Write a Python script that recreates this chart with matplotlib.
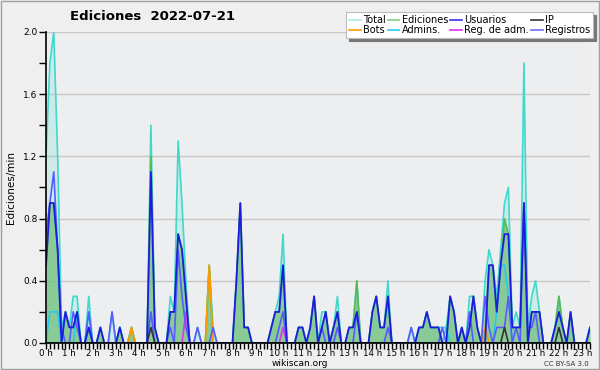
import matplotlib
matplotlib.use("Agg")
import matplotlib.pyplot as plt
import numpy as np
from matplotlib.ticker import MultipleLocator, FixedLocator, FuncFormatter
from matplotlib.patches import Rectangle
from matplotlib.lines import Line2D

# 10-minute buckets from 00:00 to 23:20 (minutes since midnight)
time_min = np.arange(0, 1401, 10)

total = [
    1.2, 1.8, 2.0, 1.2, 0.1, 0.2,   0.1, 0.3, 0.3, 0.0, 0.0, 0.3,
    0.0, 0.0, 0.1, 0.0, 0.0, 0.2,   0.0, 0.1, 0.0, 0.0, 0.1, 0.0,
    0.0, 0.0, 0.0, 1.4, 0.1, 0.0,   0.0, 0.0, 0.3, 0.2, 1.3, 0.9,
    0.4, 0.0, 0.0, 0.1, 0.0, 0.0,   0.5, 0.1, 0.0, 0.0, 0.0, 0.0,
    0.0, 0.4, 0.9, 0.1, 0.1, 0.0,   0.0, 0.0, 0.0, 0.0, 0.1, 0.2,
    0.3, 0.7, 0.0, 0.0, 0.0, 0.1,   0.1, 0.0, 0.1, 0.3, 0.0, 0.2,
    0.2, 0.0, 0.1, 0.3, 0.0, 0.0,   0.1, 0.1, 0.4, 0.0, 0.0, 0.0,
    0.2, 0.3, 0.1, 0.1, 0.4, 0.0,   0.0, 0.0, 0.0, 0.0, 0.1, 0.0,
    0.1, 0.1, 0.2, 0.1, 0.1, 0.1,   0.1, 0.1, 0.3, 0.2, 0.0, 0.1,
    0.0, 0.3, 0.3, 0.1, 0.0, 0.4,   0.6, 0.5, 0.3, 0.6, 0.9, 1.0,
    0.1, 0.2, 0.1, 1.8, 0.1, 0.3,   0.4, 0.2, 0.0, 0.0, 0.0, 0.1,
    0.3, 0.1, 0.0, 0.2, 0.0, 0.0,   0.0, 0.0, 0.1,
]
ediciones = [
    0.5, 0.9, 0.9, 0.6, 0.0, 0.2,   0.1, 0.1, 0.2, 0.0, 0.0, 0.1,
    0.0, 0.0, 0.1, 0.0, 0.0, 0.0,   0.0, 0.1, 0.0, 0.0, 0.1, 0.0,
    0.0, 0.0, 0.0, 1.2, 0.1, 0.0,   0.0, 0.0, 0.2, 0.2, 0.7, 0.6,
    0.3, 0.0, 0.0, 0.0, 0.0, 0.0,   0.5, 0.0, 0.0, 0.0, 0.0, 0.0,
    0.0, 0.4, 0.9, 0.1, 0.1, 0.0,   0.0, 0.0, 0.0, 0.0, 0.1, 0.2,
    0.2, 0.5, 0.0, 0.0, 0.0, 0.1,   0.1, 0.0, 0.1, 0.3, 0.0, 0.1,
    0.2, 0.0, 0.1, 0.2, 0.0, 0.0,   0.1, 0.1, 0.4, 0.0, 0.0, 0.0,
    0.2, 0.3, 0.1, 0.1, 0.3, 0.0,   0.0, 0.0, 0.0, 0.0, 0.0, 0.0,
    0.1, 0.1, 0.2, 0.1, 0.1, 0.1,   0.0, 0.0, 0.3, 0.2, 0.0, 0.1,
    0.0, 0.1, 0.3, 0.1, 0.0, 0.1,   0.5, 0.5, 0.2, 0.5, 0.8, 0.7,
    0.1, 0.1, 0.1, 0.9, 0.0, 0.2,   0.2, 0.2, 0.0, 0.0, 0.0, 0.1,
    0.3, 0.1, 0.0, 0.2, 0.0, 0.0,   0.0, 0.0, 0.1,
]
usuarios = [
    0.5, 0.9, 0.9, 0.6, 0.0, 0.2,   0.1, 0.1, 0.2, 0.0, 0.0, 0.1,
    0.0, 0.0, 0.1, 0.0, 0.0, 0.0,   0.0, 0.1, 0.0, 0.0, 0.0, 0.0,
    0.0, 0.0, 0.0, 1.1, 0.1, 0.0,   0.0, 0.0, 0.2, 0.2, 0.7, 0.6,
    0.3, 0.0, 0.0, 0.0, 0.0, 0.0,   0.0, 0.0, 0.0, 0.0, 0.0, 0.0,
    0.0, 0.4, 0.9, 0.1, 0.1, 0.0,   0.0, 0.0, 0.0, 0.0, 0.1, 0.2,
    0.2, 0.5, 0.0, 0.0, 0.0, 0.1,   0.1, 0.0, 0.1, 0.3, 0.0, 0.1,
    0.2, 0.0, 0.1, 0.2, 0.0, 0.0,   0.1, 0.1, 0.2, 0.0, 0.0, 0.0,
    0.2, 0.3, 0.1, 0.1, 0.3, 0.0,   0.0, 0.0, 0.0, 0.0, 0.0, 0.0,
    0.1, 0.1, 0.2, 0.1, 0.1, 0.1,   0.0, 0.0, 0.3, 0.2, 0.0, 0.1,
    0.0, 0.1, 0.3, 0.1, 0.0, 0.0,   0.5, 0.5, 0.2, 0.5, 0.7, 0.7,
    0.1, 0.1, 0.1, 0.9, 0.0, 0.2,   0.2, 0.2, 0.0, 0.0, 0.0, 0.1,
    0.2, 0.1, 0.0, 0.2, 0.0, 0.0,   0.0, 0.0, 0.1,
]
registros = [
    0.7, 0.9, 1.1, 0.6, 0.1, 0.0,   0.0, 0.2, 0.1, 0.0, 0.0, 0.2,
    0.0, 0.0, 0.0, 0.0, 0.0, 0.2,   0.0, 0.0, 0.0, 0.0, 0.0, 0.0,
    0.0, 0.0, 0.0, 0.2, 0.0, 0.0,   0.0, 0.0, 0.1, 0.0, 0.6, 0.3,
    0.1, 0.0, 0.0, 0.1, 0.0, 0.0,   0.0, 0.1, 0.0, 0.0, 0.0, 0.0,
    0.0, 0.0, 0.0, 0.0, 0.0, 0.0,   0.0, 0.0, 0.0, 0.0, 0.0, 0.0,
    0.1, 0.2, 0.0, 0.0, 0.0, 0.0,   0.0, 0.0, 0.0, 0.0, 0.0, 0.1,
    0.0, 0.0, 0.0, 0.1, 0.0, 0.0,   0.0, 0.0, 0.2, 0.0, 0.0, 0.0,
    0.0, 0.0, 0.0, 0.0, 0.1, 0.0,   0.0, 0.0, 0.0, 0.0, 0.1, 0.0,
    0.0, 0.0, 0.0, 0.0, 0.0, 0.0,   0.1, 0.0, 0.0, 0.0, 0.0, 0.0,
    0.0, 0.2, 0.0, 0.0, 0.0, 0.3,   0.1, 0.0, 0.1, 0.1, 0.1, 0.3,
    0.0, 0.1, 0.0, 0.9, 0.1, 0.1,   0.2, 0.0, 0.0, 0.0, 0.0, 0.0,
    0.0, 0.0, 0.0, 0.0, 0.0, 0.0,   0.0, 0.0, 0.0,
]
ip = [0.0] * 141
ip[27] = 0.1
ip[118] = 0.1
ip[132] = 0.1
bots = [0.0] * 141
bots[22] = 0.1
bots[42] = 0.5
bots[113] = 0.1
admins = [0.0] * 141
for k, v in {1: 0.2, 2: 0.2, 3: 0.2, 8: 0.2, 11: 0.2, 103: 0.1,
             116: 0.2, 117: 0.5, 118: 0.5, 119: 0.3}.items():
    admins[k] = v
reg_adm = [0.0] * 141
reg_adm[36] = 0.2
reg_adm[61] = 0.1

hour_labels = [f"{h} h" for h in range(24)]

C_TOTAL = "#3fd9cc"
C_EDIC = "#55bb55"
C_USU = "#1c1ce0"
C_IP = "#333333"
C_BOTS = "#ff9900"
C_ADM = "#22ccee"
C_REGADM = "#dd33ee"
C_REG = "#5a5aff"

fig = plt.figure(figsize=(6.0, 3.7), dpi=100)
fig.patch.set_facecolor("#efefef")
fig.patches.append(Rectangle((0.001, 0.002), 0.997, 0.995, transform=fig.transFigure,
                             fill=False, edgecolor="#a0a0a0", linewidth=1.0))

ax = fig.add_axes([46 / 600, 1 - 343 / 370, (590 - 46) / 600, (343 - 32) / 370])
ax.set_facecolor("#edeef0")

t = time_min
ax.fill_between(t, total, 0, color=C_TOTAL, alpha=0.18, linewidth=0)
ax.fill_between(t, ediciones, 0, color="#6fbf78", alpha=0.72, linewidth=0)
ax.plot(t, total, color=C_TOTAL, lw=1.2)
ax.plot(t, ediciones, color=C_EDIC, lw=1.2)
ax.plot(t, admins, color=C_ADM, lw=1.2)
ax.plot(t, bots, color=C_BOTS, lw=1.2)
ax.plot(t, reg_adm, color=C_REGADM, lw=1.2)
ax.plot(t, registros, color=C_REG, lw=1.2)
ax.plot(t, ip, color=C_IP, lw=1.2)
ax.plot(t, usuarios, color=C_USU, lw=1.3)

ax.set_xlim(t[0], t[-1])
ax.set_ylim(0, 2.0)

ax.xaxis.set_major_locator(FixedLocator(list(range(0, 1440, 60))))
ax.set_xticklabels(hour_labels)
ax.xaxis.set_minor_locator(MultipleLocator(10))
ax.yaxis.set_major_locator(MultipleLocator(0.4))
ax.yaxis.set_major_formatter(FuncFormatter(lambda v, p: f"{v:.1f}"))
ax.yaxis.set_minor_locator(MultipleLocator(0.2))
ax.tick_params(axis="x", which="both", direction="out", length=4, width=1,
               color="black", labelsize=6.3, pad=0.5)
ax.tick_params(axis="y", which="both", direction="out", length=5, width=1,
               color="black", labelsize=6.5, pad=1)
ax.grid(axis="y", which="major", color="#c8c8c8", linewidth=1)
ax.set_axisbelow(True)
for s in ("top", "right"):
    ax.spines[s].set_visible(False)
for s in ("left", "bottom"):
    ax.spines[s].set_linewidth(1.2)

fig.text(153 / 600, 1 - 17 / 370, "Ediciones  2022-07-21", ha="center", va="center",
         fontsize=9.5, fontweight="bold")
fig.text(11 / 600, 1 - 188 / 370, "Ediciones/min", rotation=90, ha="center",
         va="center", fontsize=7.5)
fig.text(300 / 600, 1 - 363 / 370, "wikiscan.org", ha="center", va="center", fontsize=6.5)
fig.text(589 / 600, 1 - 364 / 370, "CC BY-SA 3.0", ha="right", va="center",
         fontsize=5, color="#333333")

handles = [
    Line2D([], [], color="#a6ece4", lw=1.2), Line2D([], [], color=C_BOTS, lw=1.2),
    Line2D([], [], color="#7fd07f", lw=1.2), Line2D([], [], color=C_ADM, lw=1.2),
    Line2D([], [], color="#3333ee", lw=1.2), Line2D([], [], color=C_REGADM, lw=1.2),
    Line2D([], [], color="#333333", lw=1.2), Line2D([], [], color="#7070f0", lw=1.2),
]
labels = ["Total", "Bots", "Ediciones", "Admins.", "Usuarios", "Reg. de adm.", "IP", "Registros"]
leg = fig.legend(handles, labels, ncol=4, loc="upper right",
                 bbox_to_anchor=(593 / 600, 1 - 12 / 370), fontsize=7,
                 frameon=True, fancybox=False, shadow={"color": "#777777", "alpha": 1},
                 framealpha=1, edgecolor="#bbbbbb", handlelength=1.2,
                 handletextpad=0.25, columnspacing=0.2, labelspacing=0.05,
                 borderpad=0.3, borderaxespad=0)
leg.get_frame().set_linewidth(0.8)

fig.savefig("out.png", dpi=100, facecolor=fig.get_facecolor())
